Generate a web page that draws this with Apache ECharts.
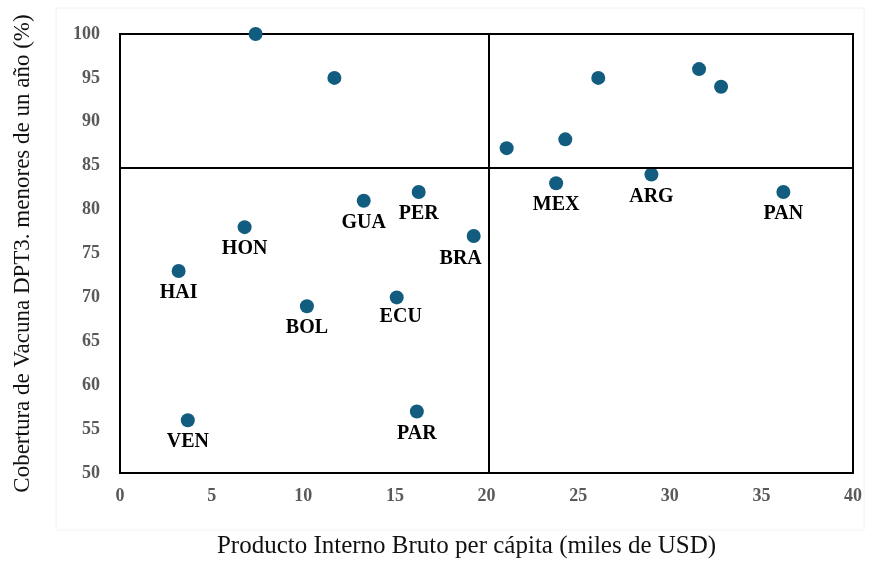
<!DOCTYPE html>
<html>
<head>
<meta charset="utf-8">
<script src="https://cdn.jsdelivr.net/npm/echarts@6/dist/echarts.min.js"></script>
<style>
  html, body { margin: 0; padding: 0; background: #fff; }
  #main { width: 869px; height: 564px; }
</style>
</head>
<body>
<div id="main"></div>
<script>
// etiquetas de pais (vacio = sin etiqueta)
var paises = ['', '', '', '', '', '', '', 'MEX', 'ARG', 'PAN', 'GUA', 'PER', 'BRA', 'HON', 'HAI', 'BOL', 'ECU', 'VEN', 'PAR'];
// PIB per capita (miles de USD)
var pib = [7.4, 11.7, 26.1, 31.6, 32.8, 21.1, 24.3, 23.8, 29.0, 36.2, 13.3, 16.3, 19.3, 6.8, 3.2, 10.2, 15.1, 3.7, 16.2];
// cobertura DPT3 (%)
var cobertura = [100, 95, 95, 96, 94, 87, 88, 83, 84, 82, 81, 82, 77, 78, 73, 69, 70, 56, 57];
// lineas de cuadrante
var corteX = 20.1;
var corteY = 84.8;

var serif = '"Liberation Serif", "Times New Roman", serif';

var puntos = [];
for (var i = 0; i < pib.length; i++) {
  var p = { value: [pib[i], cobertura[i]], name: paises[i] };
  if (paises[i] === 'BRA') p.label = { offset: [-13, 23] };
  if (paises[i] === 'ECU') p.label = { offset: [4, 19] };
  puntos.push(p);
}

var myChart = echarts.init(document.getElementById('main'));
myChart.setOption({
  animation: false,
  graphic: [{
    type: 'rect',
    shape: { x: 56, y: 8, width: 808, height: 522 },
    style: { fill: 'none', stroke: '#f2f2f2', lineWidth: 1 },
    silent: true
  }],
  grid: {
    left: 120, right: 16, top: 34, bottom: 89,
    show: true, borderColor: '#000', borderWidth: 2
  },
  xAxis: {
    type: 'value',
    min: 0, max: 40, interval: 5,
    name: 'Producto Interno Bruto per cápita (miles de USD)',
    nameLocation: 'middle',
    nameGap: 61,
    nameTextStyle: { fontFamily: serif, fontSize: 25, color: '#111', padding: [0, 40, 0, 0] },
    axisLine: { show: false },
    axisTick: { show: false },
    splitLine: { show: false },
    axisLabel: { fontFamily: serif, fontSize: 18, fontWeight: 'bold', color: '#595959', margin: 14 }
  },
  yAxis: {
    type: 'value',
    min: 50, max: 100, interval: 5,
    name: 'Cobertura de Vacuna DPT3. menores de un año (%)',
    nameLocation: 'middle',
    nameGap: 86,
    nameTextStyle: { fontFamily: serif, fontSize: 23, color: '#111' },
    axisLine: { show: false },
    axisTick: { show: false },
    splitLine: { show: false },
    axisLabel: { fontFamily: serif, fontSize: 18, fontWeight: 'bold', color: '#595959', margin: 20 }
  },
  series: [{
    type: 'scatter',
    data: puntos,
    symbolSize: 14,
    itemStyle: { color: '#125d7f', opacity: 1 },
    label: {
      show: true,
      position: 'inside',
      offset: [0, 22],
      formatter: function (p) { return p.name; },
      fontFamily: serif,
      fontSize: 20,
      fontWeight: 'bold',
      color: '#000'
    },
    markLine: {
      silent: true,
      symbol: 'none',
      label: { show: false },
      lineStyle: { color: '#000', width: 2, type: 'solid' },
      data: [{ xAxis: corteX }, { yAxis: corteY }]
    },
    z: 3
  }]
});
</script>
</body>
</html>
